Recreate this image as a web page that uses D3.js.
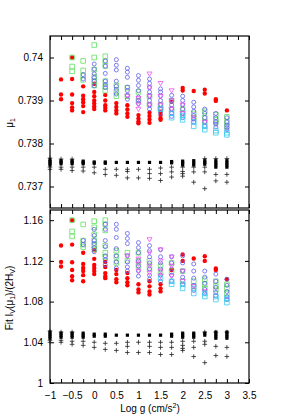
<!DOCTYPE html>
<html>
<head>
<meta charset="utf-8">
<script src="https://cdn.jsdelivr.net/npm/d3@7"></script>
<style>
  body { margin: 0; background: #fff; }
  svg { font-family: "Liberation Sans", Arial, sans-serif; }
  .tick text { font-size: 10px; fill: #000; }
  .tick line { stroke: #000; }
</style>
</head>
<body>
<svg id="graph" width="300" height="420"></svg>
<script>
//log g grid (one column of points per value)
let logg = [-1, -0.75, -0.5, -0.25, 0, 0.25, 0.5, 0.75, 1, 1.25, 1.5, 1.75, 2, 2.25, 2.5, 2.75, 3];
//tick labels
let xTicks = [-1, -0.5, 0, 0.5, 1, 1.5, 2, 2.5, 3, 3.5];
let muTicks = [0.737, 0.738, 0.739, 0.74];
let fitTicks = [1, 1.04, 1.08, 1.12, 1.16];

//top panel: mu1, one list per log g column
let muRed = [[], [0.73949, 0.73914, 0.73903], [0.74, 0.7395, 0.73914, 0.73894, 0.73884, 0.73877], [0.73933, 0.73911, 0.73903, 0.73896, 0.73887, 0.73873], [0.73939, 0.7392, 0.7391, 0.739, 0.73893, 0.73886, 0.7388], [0.73913, 0.739, 0.73889, 0.73883, 0.73877], [0.73894, 0.73885, 0.73877, 0.7387], [0.73889, 0.73879, 0.7387, 0.73862], [0.73866, 0.73858, 0.73851, 0.73847], [0.73872, 0.73864, 0.73856, 0.73848], [0.73874, 0.73866, 0.73859, 0.73855], [0.73897], [0.73929, 0.73923], [0.73922], [0.73925, 0.73916], [0.73903, 0.73899], [0.73877]];
let muGreen = [[], [], [0.74, 0.73979, 0.73968], [0.73992, 0.7397, 0.73958, 0.73948], [0.74029, 0.74, 0.73972, 0.73955, 0.73945, 0.73935], [0.74003, 0.73991, 0.7398, 0.73945, 0.73932, 0.73923], [0.73935, 0.7392, 0.7391], [0.7393, 0.7391], [0.7392, 0.739], [0.7391, 0.7389], [0.7389, 0.7388], [0.739, 0.7388], [0.7388, 0.7387], [0.7387, 0.7386], [0.73875, 0.7386, 0.7385], [0.73867, 0.73855, 0.7385], [0.73862, 0.7385, 0.7384]];
let muBlue = [[], [], [], [0.7396, 0.7395], [0.73985, 0.73973, 0.73962, 0.73953, 0.73945, 0.73934], [0.73992, 0.7398, 0.73963, 0.73945, 0.73937, 0.7393], [0.73995, 0.73982, 0.73971, 0.73945, 0.73933, 0.73926, 0.73915], [0.73975, 0.73966, 0.73954, 0.73931, 0.73923, 0.73912, 0.73903], [0.73958, 0.73947, 0.73935, 0.73923, 0.73908, 0.739, 0.73893], [0.7395, 0.7394, 0.7393, 0.7392, 0.7391, 0.739, 0.7389, 0.7388], [0.73927, 0.7392, 0.7391, 0.739, 0.7389, 0.7388, 0.7387], [0.73912, 0.739, 0.7389, 0.7388, 0.7387, 0.73863], [0.7391, 0.739, 0.7389, 0.7388, 0.7387, 0.7386], [0.73896, 0.73885, 0.73875, 0.73865, 0.73857, 0.7385], [0.7388, 0.7387, 0.7386, 0.7385, 0.7384], [0.7387, 0.7386, 0.7385, 0.73845, 0.73838], [0.7386, 0.7385, 0.73843, 0.73837, 0.73832]];
let muMagenta = [[], [], [], [], [], [], [], [0.7391], [0.73905, 0.7389, 0.7388], [0.73962, 0.7393, 0.7391, 0.7389], [0.7394, 0.7391, 0.7389, 0.7388], [0.73923, 0.739, 0.7388], [0.7389, 0.7387], [0.7386], [0.7385], [], []];
let muCyan = [[], [], [], [], [], [], [], [], [], [], [0.7388], [0.7387, 0.7386], [0.73865, 0.73855], [0.7385, 0.7384], [0.7384, 0.73832], [0.7383, 0.73825], [0.73825, 0.7382]];
let muBlackSq = [[0.73762, 0.73758, 0.73754, 0.7375], [0.7376, 0.73757, 0.73753], [0.7376, 0.73757, 0.73753], [0.73759, 0.73756, 0.73753], [0.73757, 0.73754], [0.73757, 0.73754], [0.73756], [0.73756], [0.73756], [0.73756], [0.73756], [0.73758, 0.73755], [0.73759, 0.73755, 0.7375], [0.7376, 0.73755, 0.7375], [0.7376, 0.73756, 0.73752], [0.7376, 0.73755, 0.7375, 0.73745], [0.7376, 0.73755, 0.7375, 0.73745]];
let muPlus = [[0.73766, 0.73745, 0.7374], [0.73764, 0.73745, 0.7374], [0.73764, 0.73745, 0.73737], [0.73745, 0.73736], [0.73745, 0.73732], [0.7374, 0.73728], [0.7374, 0.73726], [0.7374, 0.73735, 0.7372], [0.7374, 0.7372], [0.7374, 0.7373, 0.73719], [0.73743, 0.7373, 0.73714], [0.73745, 0.73734, 0.73722], [0.73745, 0.73735, 0.7373, 0.73724], [0.73745, 0.73734, 0.7371], [0.73765, 0.73745, 0.73734, 0.73695], [0.73765, 0.73728, 0.73713], [0.73765, 0.73728, 0.7371]];

//bottom panel: Fit I_V(mu1)/(2H_V), one list per log g column
let fitRed = [[], [1.1351, 1.119, 1.1145], [1.16, 1.136, 1.1187, 1.111, 1.105, 1.101], [1.128, 1.117, 1.113, 1.11, 1.106, 1.1], [1.1305, 1.122, 1.116, 1.113, 1.11, 1.107], [1.119, 1.114, 1.108, 1.105, 1.103], [1.111, 1.107, 1.102, 1.099], [1.108, 1.103, 1.099, 1.096], [1.097, 1.092, 1.089], [1.1, 1.095, 1.09, 1.087], [1.097, 1.093, 1.09], [1.111], [1.1263, 1.12], [1.1223], [1.1246, 1.12], [1.1125, 1.111], [1.102]];
let fitGreen = [[], [], [1.16, 1.149, 1.144], [1.1558, 1.14, 1.136, 1.1336], [1.159, 1.153, 1.146, 1.14, 1.135, 1.1315], [1.16, 1.156, 1.15, 1.135, 1.128, 1.124], [1.13, 1.124, 1.118], [1.128, 1.12], [1.128, 1.12, 1.115], [1.12, 1.113], [1.115, 1.108], [1.118, 1.11], [1.11, 1.1], [1.1, 1.095], [1.102, 1.097, 1.093], [1.1, 1.095, 1.092], [1.097, 1.093, 1.088]];
let fitBlue = [[], [], [], [1.14, 1.136], [1.151, 1.145, 1.14, 1.137, 1.133, 1.129], [1.156, 1.151, 1.14, 1.134, 1.125, 1.121, 1.116], [1.156, 1.151, 1.143, 1.132, 1.125, 1.119, 1.113], [1.147, 1.142, 1.137, 1.125, 1.119, 1.114, 1.11], [1.138, 1.133, 1.128, 1.12, 1.115, 1.11, 1.105], [1.135, 1.13, 1.124, 1.118, 1.112, 1.106, 1.102], [1.131, 1.124, 1.118, 1.112, 1.106, 1.1], [1.124, 1.118, 1.112, 1.106, 1.1], [1.125, 1.118, 1.11, 1.104, 1.097], [1.117, 1.11, 1.103, 1.096, 1.091], [1.11, 1.104, 1.098, 1.092, 1.088], [1.107, 1.1, 1.094, 1.089, 1.086], [1.102, 1.096, 1.09, 1.085, 1.082]];
let fitMagenta = [[], [], [], [], [], [], [], [1.125], [1.122, 1.117, 1.11], [1.141, 1.128, 1.115, 1.108], [1.131, 1.12, 1.11, 1.105], [1.124, 1.115, 1.105], [1.11, 1.1], [1.095], [1.09], [], []];
let fitCyan = [[], [], [], [], [], [], [], [], [], [], [1.103], [1.1, 1.097], [1.097, 1.093], [1.093, 1.088], [1.088, 1.085], [1.085, 1.082], [1.083, 1.079]];
let fitBlackSq = [[1.05, 1.048, 1.046, 1.044], [1.049, 1.047, 1.045], [1.049, 1.047, 1.045], [1.049, 1.047, 1.045], [1.048, 1.046], [1.048, 1.046], [1.047], [1.047], [1.047], [1.047], [1.047], [1.048, 1.046], [1.049, 1.047, 1.045], [1.049, 1.047, 1.045], [1.049, 1.047], [1.05, 1.048, 1.046, 1.044], [1.05, 1.048, 1.046, 1.044]];
let fitPlus = [[1.051, 1.042, 1.04], [1.05, 1.042, 1.04], [1.05, 1.041, 1.038], [1.041, 1.037], [1.04, 1.035], [1.039, 1.033], [1.039, 1.032], [1.04, 1.036, 1.03], [1.04, 1.03], [1.04, 1.036, 1.03], [1.04, 1.035, 1.028], [1.04, 1.035, 1.028], [1.041, 1.037, 1.034, 1.032], [1.041, 1.035, 1.026], [1.05, 1.041, 1.038, 1.02], [1.05, 1.036, 1.027], [1.05, 1.035, 1.026]];

//panel boxes in pixels
let left = 50, right = 249;
let topPanel = { top: 36, bottom: 208 };
let botPanel = { top: 210, bottom: 383 };

let svg = d3.select("#graph");

//shared x scale
let x = d3.scaleLinear().domain([-1, 3.5]).range([left, right]);
let yTop = d3.scaleLinear().domain([0.7365, 0.7405]).range([topPanel.bottom, topPanel.top]);
let yBot = d3.scaleLinear().domain([1, 1.17]).range([botPanel.bottom, botPanel.top]);

//minor x ticks every 0.25
let xTickAll = [];
for (let i = 0; i <= 18; i++) xTickAll.push(-1 + i * 0.25);

//turn column arrays into point list
function points(cols) {
  let out = [];
  cols.forEach(function (col, i) {
    col.forEach(function (v) { out.push({ x: logg[i], y: v }); });
  });
  return out;
}

//draw one panel: frame, ticks, markers
function drawPanel(y, box, ticks, series, showX) {
  let g = svg.append("g");

  //left axis with inward ticks
  g.append("g")
    .attr("transform", "translate(" + left + ",0)")
    .call(d3.axisLeft(y).tickValues(ticks).tickFormat(d3.format("")).tickSizeInner(-4).tickSizeOuter(0).tickPadding(7));
  //right axis, ticks only
  g.append("g")
    .attr("transform", "translate(" + right + ",0)")
    .call(d3.axisRight(y).tickValues(ticks).tickFormat("").tickSizeInner(-4).tickSizeOuter(0));
  //top x ticks
  g.append("g")
    .attr("transform", "translate(0," + box.top + ")")
    .call(d3.axisTop(x).tickValues(xTickAll).tickFormat("").tickSizeInner(-4).tickSizeOuter(0));
  //bottom x ticks (labels only on the lower panel)
  g.append("g")
    .attr("transform", "translate(0," + box.bottom + ")")
    .call(d3.axisBottom(x).tickValues(xTickAll)
      .tickFormat(function (d) { return (showX && xTicks.indexOf(d) >= 0) ? d3.format("")(d) : ""; })
      .tickSizeInner(-4).tickSizeOuter(0).tickPadding(9));
  g.selectAll(".domain").remove();

  //frame
  g.append("rect")
    .attr("x", left).attr("y", box.top)
    .attr("width", right - left).attr("height", box.bottom - box.top)
    .attr("fill", "none").attr("stroke", "#000").attr("stroke-width", 1.2);

  //markers
  series.forEach(function (s) {
    let pts = points(s.data);
    let sel = g.append("g").selectAll("path").data(pts).enter().append("path")
      .attr("transform", function (d) { return "translate(" + x(d.x) + "," + y(d.y) + ")"; });
    if (s.kind === "dot") {
      sel.attr("d", d3.symbol(d3.symbolCircle, 15)).attr("fill", s.color);
    } else if (s.kind === "circle") {
      sel.attr("d", "M2,0A2,2,0,1,1,-2,0A2,2,0,1,1,2,0").attr("fill", "none").attr("stroke", s.color).attr("stroke-width", 0.8);
    } else if (s.kind === "square") {
      sel.attr("d", "M-2.3,-2.3H2.3V2.3H-2.3Z").attr("fill", "none").attr("stroke", s.color).attr("stroke-width", 0.8);
    } else if (s.kind === "tri") {
      sel.attr("d", "M-2.5,-1.8H2.5L0,2.4Z").attr("fill", "none").attr("stroke", s.color).attr("stroke-width", 0.8);
    } else if (s.kind === "fsq") {
      sel.attr("d", "M-1.6,-1.6H1.6V1.6H-1.6Z").attr("fill", s.color);
    } else if (s.kind === "plus") {
      sel.attr("d", "M-2.3,0H2.3M0,-2.3V2.3").attr("fill", "none").attr("stroke", s.color).attr("stroke-width", 0.8);
    }
  });
}

drawPanel(yTop, topPanel, muTicks, [
  { data: muPlus, kind: "plus", color: "#222" },
  { data: muBlackSq, kind: "fsq", color: "#000" },
  { data: muRed, kind: "dot", color: "#f00" },
  { data: muGreen, kind: "square", color: "#5fe05f" },
  { data: muBlue, kind: "circle", color: "#6060f0" },
  { data: muMagenta, kind: "tri", color: "#ee55ee" },
  { data: muCyan, kind: "square", color: "#33ccf0" }
], false);

drawPanel(yBot, botPanel, fitTicks, [
  { data: fitPlus, kind: "plus", color: "#222" },
  { data: fitBlackSq, kind: "fsq", color: "#000" },
  { data: fitRed, kind: "dot", color: "#f00" },
  { data: fitGreen, kind: "square", color: "#5fe05f" },
  { data: fitBlue, kind: "circle", color: "#6060f0" },
  { data: fitMagenta, kind: "tri", color: "#ee55ee" },
  { data: fitCyan, kind: "square", color: "#33ccf0" }
], true);

//axis titles
let t1 = svg.append("text").attr("transform", "translate(13,123) rotate(-90)")
  .attr("text-anchor", "middle").attr("font-size", 10);
t1.append("tspan").text("μ");
t1.append("tspan").attr("font-size", 7).attr("dy", 2).text("1");

let t2 = svg.append("text").attr("transform", "translate(13,298) rotate(-90)")
  .attr("text-anchor", "middle").attr("font-size", 10);
t2.append("tspan").text("Fit I");
t2.append("tspan").attr("font-size", 7).attr("dy", 2).text("V");
t2.append("tspan").attr("dy", -2).text("(μ");
t2.append("tspan").attr("font-size", 7).attr("dy", 2).text("1");
t2.append("tspan").attr("dy", -2).text(")/(2H");
t2.append("tspan").attr("font-size", 7).attr("dy", 2).text("V");
t2.append("tspan").attr("dy", -2).text(")");

let t3 = svg.append("text").attr("x", 150).attr("y", 412)
  .attr("text-anchor", "middle").attr("font-size", 10);
t3.append("tspan").text("Log g (cm/s");
t3.append("tspan").attr("font-size", 7).attr("dy", -4).text("2");
t3.append("tspan").attr("dy", 4).text(")");
</script>
</body>
</html>
